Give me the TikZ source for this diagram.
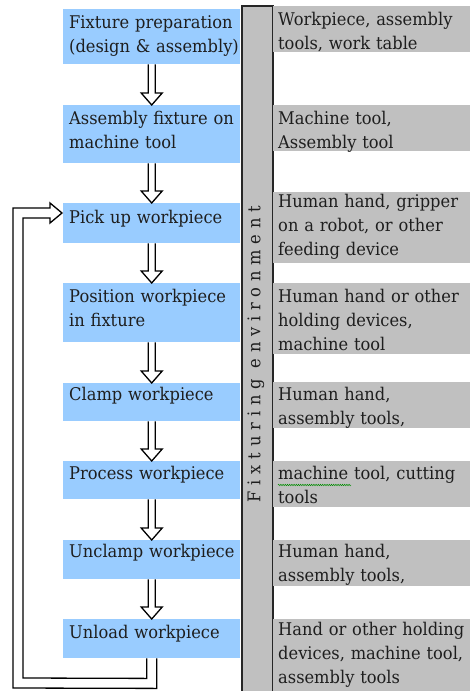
\documentclass[tikz,border=0pt]{standalone}
\usepackage{fontspec}
\setmainfont{DejaVu Serif}[FakeStretch=0.93]
\usetikzlibrary{calc,decorations.pathmorphing}
\definecolor{boxblue}{RGB}{153,204,255}
\definecolor{boxgray}{RGB}{192,192,192}
\definecolor{ink}{RGB}{30,30,30}
\newcommand{\hollowarr}[2]{%
  \draw[arrline] ($(#1.south)+(-3.5,0)$) -- ($(#2.north)+(-3.5,-12)$)
    -- ($(#2.north)+(-10.5,-12)$) -- (#2.north) -- ($(#2.north)+(10.5,-12)$)
    -- ($(#2.north)+(3.5,-12)$) -- ($(#1.south)+(3.5,0)$);}
\begin{document}
\begin{tikzpicture}[x=1pt,y=-1pt,
  bluebox/.style={fill=boxblue, inner sep=0pt, anchor=north west, minimum width=177pt},
  graybox/.style={fill=boxgray, inner sep=0pt, anchor=north west, minimum width=197pt},
  txt/.style={inner sep=0pt, text width=196pt, align=left, anchor=base west, text=ink,
    font=\fontsize{17.5}{24}\selectfont},
  arrline/.style={draw=black, line width=1.3pt, line join=miter},
  envbar/.style={fill=boxgray, draw=black!85, line width=1.5pt, inner sep=0pt, anchor=north west,
    minimum width=31pt, minimum height=700pt}]
\useasboundingbox (0,0) rectangle (472,691);
\fill[white] (0,0) rectangle (472,691);
% environment bar
\node[envbar] (env) at (241,5) {};
\node[rotate=90, text=ink, font=\fontsize{17.5}{20}\selectfont\addfontfeature{LetterSpace=33}] (envtxt) at (256,354) {Fixturing environment};
% blue process boxes
\node[bluebox, minimum height=55pt] (b1) at (63,9) {};
\node[bluebox, minimum height=58pt] (b2) at (63,105) {};
\node[bluebox, minimum height=40pt] (b3) at (63,203) {};
\node[bluebox, minimum height=59pt] (b4) at (63,283) {};
\node[bluebox, minimum height=38pt] (b5) at (63,383) {};
\node[bluebox, minimum height=38pt] (b6) at (63,461) {};
\node[bluebox, minimum height=39pt] (b7) at (63,540) {};
\node[bluebox, minimum height=39pt] (b8) at (63,619) {};
\node[txt] (t1) at (69,28) {Fixture preparation\\(design \& assembly)};
\node[txt] (t2) at (69,124) {Assembly fixture on\\machine tool};
\node[txt] (t3) at (69,223) {Pick up workpiece};
\node[txt] (t4) at (69,302) {Position workpiece\\in fixture};
\node[txt] (t5) at (69,400) {Clamp workpiece};
\node[txt] (t6) at (69,479) {Process workpiece};
\node[txt] (t7) at (69,557) {Unclamp workpiece};
\node[txt] (t8) at (69,638) {Unload workpiece};
% gray resource boxes
\node[graybox, minimum height=46pt] (g1) at (273,6) {};
\node[graybox, minimum height=46pt] (g2) at (273,105) {};
\node[graybox, minimum height=71pt] (g3) at (273,192) {};
\node[graybox, minimum height=71pt] (g4) at (273,283) {};
\node[graybox, minimum height=46pt] (g5) at (273,382) {};
\node[graybox, minimum height=46pt] (g6) at (273,461) {};
\node[graybox, minimum height=46pt] (g7) at (273,540) {};
\node[graybox, minimum height=80pt] (g8) at (273,619) {};
\node[txt] (r1) at (278,25) {Workpiece, assembly\\tools, work table};
\node[txt] (r2) at (278,124) {Machine tool,\\Assembly tool};
\node[txt] (r3) at (278,207) {Human hand, gripper\\on a robot, or other\\feeding device};
\node[txt] (r4) at (278,302) {Human hand or other\\holding devices,\\machine tool};
\node[txt] (r5) at (278,400) {Human hand,\\assembly tools,};
\node[txt] (r6) at (278,479) {machine tool, cutting\\tools};
\node[txt] (r7) at (278,557) {Human hand,\\assembly tools,};
\node[txt] (r8) at (278,635) {Hand or other holding\\devices, machine tool,\\assembly tools};
\draw[green!55!black, line width=0.5pt, decorate, decoration={snake, amplitude=0.7pt, segment length=2.2pt}]
  (278,485) -- (351,485);
% hollow arrows
\hollowarr{b1}{b2}
\hollowarr{b2}{b3}
\hollowarr{b3}{b4}
\hollowarr{b4}{b5}
\hollowarr{b5}{b6}
\hollowarr{b6}{b7}
\hollowarr{b7}{b8}
% feedback loop
\coordinate (tip) at ($(b3.north west)+(-1,10)$);
\draw[arrline] ($(b8.south)+(5,0)$) -- ($(b8.south)+(5,30)$) -- (13,688) -- (13,208)
  -- ($(tip)+(-12,-5)$) -- ($(tip)+(-12,-10)$) -- (tip) -- ($(tip)+(-12,10)$)
  -- ($(tip)+(-12,5)$) -- (23,218) -- (23,678) -- ($(b8.south)+(-5,20)$) -- ($(b8.south)+(-5,0)$);
\end{tikzpicture}
\end{document}
